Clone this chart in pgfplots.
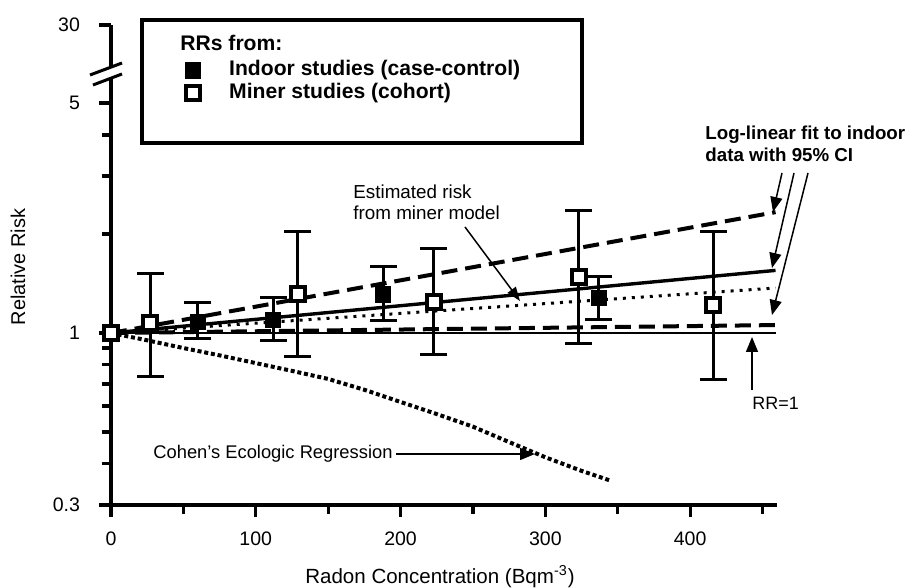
\documentclass[border=0pt]{standalone}
\usepackage{pgfplots}
\pgfplotsset{compat=1.18}
\usepackage{pgfplotstable}
\usepackage{fontspec}
\setmainfont{Liberation Sans}
\usetikzlibrary{arrows.meta}

\pgfplotstableread{
x y
60 1.08
112 1.095
188 1.31
337 1.28
}\indoor
\pgfplotstableread{
x y
0 1.00
27 1.07
129 1.31
223 1.24
323 1.48
416 1.22
}\miner

\begin{document}
\begin{tikzpicture}
\path[use as bounding box] (0,0) rectangle (453.5bp,294bp);
\begin{axis}[
  at={(55.5bp,41.5bp)}, anchor=south west, scale only axis,
  width=333bp, height=240bp,
  xmin=0, xmax=460, ymode=log, ymin=0.3, ymax=8.635,
  axis x line=bottom, axis y line=left,
  axis line style={-, line width=2bp, black},
  tick align=outside, major tick length=6bp, minor tick length=4.5bp,
  tick style={line width=1.6bp, black},
  xtick={0,100,200,300,400}, xticklabels={0,100,200,300,400},
  minor xtick={50,150,250,350,450},
  ytick={0.3,1,5,8.635}, yticklabels={0.3,1,5,30},
  minor ytick={0.4,0.5,0.6,0.7,0.8,0.9,2,3,4},
  tick label style={font=\fontsize{9.8}{11}\selectfont},
  xticklabel style={yshift=-4bp},
  yticklabel style={xshift=-6bp},
  clip=false,
  legend image code/.code={\draw[#1] plot coordinates {(0bp,0bp)}; \path (-6bp,0bp) (6bp,0bp);},
  legend cell align=left,
  legend style={at={(0.1036,0.9269)}, anchor=north west, draw=none, fill=none,
    inner sep=0pt, row sep=1.6bp, column sep=12bp,
    font=\bfseries\fontsize{10.6}{12.7}\selectfont,
    nodes={inner sep=0pt, text height=7.7bp, text depth=2.2bp}},
]
% RR = 1
\addplot[black, line width=0.8bp, forget plot] coordinates {(0,1) (459,1)};
% Cohen's ecologic regression
\addplot[black, line width=2bp, dash pattern=on 2bp off 1.4bp, forget plot] coordinates {
(0,1) (25,0.95) (50,0.90) (75,0.855) (100,0.81) (125,0.767) (150,0.725) (175,0.672) (200,0.617)
(225,0.567) (250,0.519) (275,0.466) (300,0.419) (325,0.381) (344,0.357)};
% log-linear fit and CI
\addplot[black, line width=2bp, dash pattern=on 8bp off 4bp, forget plot] coordinates {(0,1) (459,2.33)};
\addplot[black, line width=2bp, dash pattern=on 8bp off 4bp, forget plot] coordinates {(0,1) (459,1.057)};
\addplot[black, line width=1.7bp, forget plot] coordinates {(0,1) (459,1.55)};
% miner model
\addplot[black, line width=1.5bp, dash pattern=on 1.5bp off 3bp, forget plot] coordinates {(0,1) (459,1.37)};
% 95% CI of the RRs (indoor and miner)
\addplot[black, line width=1.5bp, mark=-, mark size=6.75bp, mark options={solid, line width=1.5bp},
  unbounded coords=jump, forget plot] coordinates {
(60,0.96) (60,1.24) (60,nan)
(112,0.95) (112,1.28) (112,nan)
(188,1.09) (188,1.59) (188,nan)
(337,1.10) (337,1.48) (337,nan)
(27,0.74) (27,1.52) (27,nan)
(129,0.85) (129,2.03) (129,nan)
(223,0.86) (223,1.81) (223,nan)
(323,0.93) (323,2.36) (323,nan)
(416,0.72) (416,2.03)};
% data
\addplot[only marks, mark=square*, mark size=3.8bp, mark options={draw=black, fill=black, line width=0.4bp, solid}]
  table[x=x, y=y] {\indoor};
\addlegendentry{Indoor studies (case-control)}
\addplot[only marks, mark=square*, mark size=3.5bp, mark options={draw=black, fill=white, line width=2bp, solid}]
  table[x=x, y=y] {\miner};
\addlegendentry{Miner studies (cohort)}
\end{axis}

% axis break
\fill[white] (45bp,256.5bp) -- (61bp,262.5bp) -- (61bp,257bp) -- (46.5bp,251.5bp) -- cycle;
\draw[line width=1.5bp] (45bp,256.5bp) -- (61bp,262.5bp);
\draw[line width=1.5bp] (46.5bp,251.5bp) -- (61bp,257bp);

% legend box and title
\draw[line width=2bp] (71bp,222.5bp) rectangle (291bp,284bp);
\node[anchor=base west, inner sep=0pt, font=\bfseries\fontsize{10.6}{12}\selectfont] at (90bp,268.7bp) {RRs from:};

% axis titles
\node[rotate=90, font=\fontsize{10}{12}\selectfont] at (9bp,160.5bp) {Relative Risk};
\node[anchor=base, inner sep=0pt, font=\fontsize{10.3}{12}\selectfont] at (220bp,2.5bp) {Radon Concentration (Bqm\textsuperscript{-3})};

% annotations
\node[anchor=base west, inner sep=0pt, font=\fontsize{9.45}{11}\selectfont] at (176.5bp,194.6bp) {Estimated risk};
\node[anchor=base west, inner sep=0pt, font=\fontsize{9.45}{11}\selectfont] at (176.5bp,184.1bp) {from miner model};
\draw[line width=0.75bp, -{Triangle[length=7bp,width=5bp]}] (232.5bp,180.5bp) -- (260bp,143.5bp);

\node[anchor=base west, inner sep=0pt, font=\bfseries\fontsize{9.4}{11}\selectfont] at (352.5bp,224.1bp) {Log-linear fit to indoor};
\node[anchor=base west, inner sep=0pt, font=\bfseries\fontsize{9.4}{11}\selectfont] at (352.5bp,213.1bp) {data with 95\% CI};
\draw[line width=0.75bp, -{Triangle[length=7.5bp,width=6bp]}] (391bp,207.5bp) -- (386.5bp,188bp);
\draw[line width=0.75bp, -{Triangle[length=7.5bp,width=6bp]}] (397bp,207.5bp) -- (386bp,160bp);
\draw[line width=0.75bp, -{Triangle[length=7.5bp,width=6bp]}] (404bp,207.5bp) -- (386bp,136.5bp);

\draw[line width=0.75bp, -{Triangle[length=7.5bp,width=6bp]}] (376bp,99bp) -- (376bp,125.5bp);
\node[anchor=base west, inner sep=0pt, font=\fontsize{9}{11}\selectfont] at (376bp,89.1bp) {RR=1};

\node[anchor=base west, inner sep=0pt, font=\fontsize{9.2}{11}\selectfont] at (76.5bp,64.7bp) {Cohen’s Ecologic Regression};
\draw[line width=0.75bp, -{Triangle[length=7.5bp,width=6bp]}] (198bp,67bp) -- (267.5bp,67bp);
\end{tikzpicture}
\end{document}
